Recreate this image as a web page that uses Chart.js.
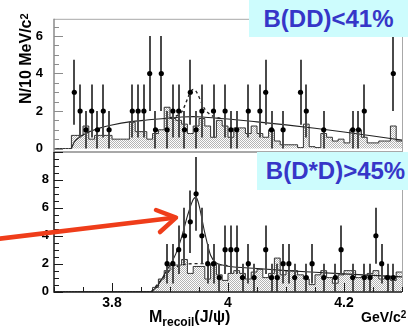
<!DOCTYPE html>
<html>
<head>
<meta charset="utf-8">
<script src="https://cdn.jsdelivr.net/npm/chart.js@4.4.1/dist/chart.umd.min.js"></script>
<style>
  body { margin: 0; background: #fff; }
  #wrap { position: relative; width: 408px; height: 330px; overflow: hidden; font-family: "Liberation Sans", Arial, sans-serif; }
  canvas { position: absolute; left: 0; top: 0; }
  .box { position: absolute; background: #cdfcfd; color: #3636c8; font-weight: bold; font-size: 24px; display: flex; align-items: center; justify-content: center; }
  .lbl { position: absolute; font-weight: bold; color: #000; white-space: nowrap; }
  svg { position: absolute; left: 0; top: 0; }
</style>
</head>
<body>
<div id="wrap">
  <canvas id="topChart" width="408" height="330"></canvas>
  <canvas id="botChart" width="408" height="330"></canvas>
  <div class="box" style="left:249px;top:0;width:159px;height:37px;">B(DD)&lt;41%</div>
  <div class="box" style="left:257px;top:152px;width:151px;height:38px;padding-left:6px;box-sizing:border-box;">B(D*D)&gt;45%</div>
  <div class="lbl" style="left:17px;top:104px;width:96px;font-size:16px;line-height:18px;transform-origin:0 0;transform:rotate(-90deg);">N/10 MeV/c<sup style="font-size:11px;position:relative;top:-2px;vertical-align:top;">2</sup></div>
  <div class="lbl" style="left:149px;top:309px;font-size:16px;line-height:16px;">M<span style="font-size:12px;position:relative;top:4px;">recoil</span>(J/ψ)</div>
  <div class="lbl" style="left:361px;top:310px;font-size:14px;line-height:14px;">GeV/c<sup style="font-size:10px;position:relative;top:-2px;vertical-align:top;">2</sup></div>
  <svg width="408" height="330">
    <g stroke="#ef3d1a" stroke-width="4.5" fill="none" stroke-linecap="round" stroke-linejoin="round">
      <line x1="-3" y1="239" x2="174" y2="217.8"/>
      <polyline points="156,210 176,217.6 160,232"/>
    </g>
  </svg>
</div>
<script>
// binning of both panels: 10 MeV bins from 3.70 to 4.30 GeV
const binStart = 3.70, binWidth = 0.01, nBins = 60;
const binCenters = [];
for (let i = 0; i < nBins; i++) binCenters.push(+(binStart + (i + 0.5) * binWidth).toFixed(3));

// top panel (DD)
const topCounts = [0,0,0,3,2,1,2,1,2,1,
                   0,0,0,2,2,2,4,1,4,1,
                   2,2,1,3,1,2,0,2,0,2,
                   1,1,0,2,0,2,3,1,0,1,
                   0,0,3,2,0,0,1,0,0,0,
                   0,1,1,2,0,0,0,0,4,0];
const topHist = [0,0,0,0.7,0.7,1.2,0.5,0.7,0.7,0.7,
                 0.5,0.5,0.5,1.4,0.9,0.9,0.5,0.8,1.0,2.2,
                 1.6,1.5,1.3,0.8,1.2,1.6,1.2,0.6,1.5,1.2,
                 0.6,1.1,1.1,0.8,1.2,0.8,0.6,1.0,0.4,0.2,
                 0.2,0.2,0.05,1.3,0.1,0.05,0.8,0.6,0.4,0.5,
                 0.3,1.0,1.0,0.6,0.3,0.3,0.4,0.4,1.2,0.4];
const topFitX = [3.730,3.735,3.745,3.76,3.78,3.80,3.83,3.86,3.89,3.92,3.94,3.96,3.98,4.00,4.05,4.10,4.15,4.20,4.25,4.30];
const topFitY = [0,0.35,0.62,0.88,1.1,1.25,1.42,1.52,1.6,1.68,1.7,1.67,1.62,1.57,1.42,1.26,1.08,0.88,0.67,0.45];
const topSigX = [3.90,3.91,3.92,3.925,3.93,3.935,3.94,3.945,3.95,3.955,3.96,3.97,3.98,3.99];
const topSigY = [1.64,1.72,1.95,2.25,2.65,3.0,3.15,3.05,2.75,2.4,2.1,1.8,1.66,1.6];

// bottom panel (D*D)
const botCounts = [0,0,0,0,0,0,0,0,0,0,
                   0,0,0,0,0,0,0,0,0,2,
                   2,3,4,5,7,4,2,2,1,3,
                   3,3,1,2,1,0,3,1,1,2,
                   2,1,0,1,2,0,1,0,1,3,
                   0,1,0,1,1,4,2,1,1,0];
const botHist = [0,0,0,0,0,0,0,0,0,0,
                 0,0,0,0,0,0,0,0.3,0.9,1.5,
                 1.9,1.9,2.3,1.3,1.8,1.8,0.9,2.0,1.2,0.8,
                 1.3,1.5,1.3,0.9,1.4,1.6,1.0,1.3,2.4,1.2,
                 1.5,1.5,1.2,0.9,0.5,1.2,1.5,1.0,0.6,1.2,
                 1.5,1.5,1.0,1.1,1.3,1.5,0.9,1.1,0.8,1.4];
const botFitX = [3.868,3.875,3.88,3.89,3.90,3.91,3.92,3.93,3.94,3.945,3.95,3.96,3.97,3.98,3.99,4.00,4.05,4.10,4.15,4.20,4.25,4.30];
const botFitY = [0,0.25,0.5,1.2,1.9,2.7,3.9,5.4,6.6,6.75,6.2,4.2,2.6,2.05,1.9,1.82,1.65,1.5,1.38,1.27,1.16,1.05];
const botBgX = [3.868,3.88,3.89,3.90,3.91,3.92,3.94,3.96,3.98,4.00];
const botBgY = [0,0.6,1.1,1.5,1.75,1.9,2.0,2.0,1.95,1.85];

const topYTicks = [0, 2, 4, 6];
const botYTicks = [0, 2, 4, 6, 8];
const xTickValues = [3.8, 4.0, 4.2];
const xTickLabels = ['3.8', '4', '4.2'];

const FONT = "'Liberation Sans', Arial, sans-serif";

function hatch() {
  const c = document.createElement('canvas');
  c.width = 4; c.height = 4;
  const g = c.getContext('2d');
  g.fillStyle = '#ffffff'; g.fillRect(0, 0, 4, 4);
  g.fillStyle = '#b4b4b4';
  [[0,0],[2,0],[1,1],[3,1],[0,2],[2,2],[1,3],[3,3]].forEach(([i, j]) => g.fillRect(i, j, 1, 1));
  return g.createPattern(c, 'repeat');
}

function histPoints(vals) {
  const pts = [{x: binStart, y: vals[0]}];
  vals.forEach((v, i) => pts.push({x: binCenters[i], y: v}));
  pts.push({x: binStart + nBins * binWidth, y: vals[nBins - 1]});
  return pts;
}
const curve = (xs, ys) => xs.map((x, i) => ({x: x, y: ys[i]}));
const dataPoints = counts => binCenters.map((b, i) => ({x: b, y: counts[i]})).filter(p => p.y > 0);

// poisson error bars drawn just before the data markers
const errorBars = {
  id: 'errorBars',
  beforeDatasetDraw(chart, args) {
    if (args.index !== 0) return;
    const {ctx, scales: {x, y}} = chart;
    ctx.save();
    ctx.strokeStyle = '#4a4a4a';
    ctx.lineWidth = 2;
    chart.data.datasets[0].data.forEach(p => {
      const e = Math.sqrt(p.y);
      const px = Math.round(x.getPixelForValue(p.x));
      ctx.beginPath();
      ctx.moveTo(px, y.getPixelForValue(p.y - e));
      ctx.lineTo(px, y.getPixelForValue(p.y + e));
      ctx.stroke();
    });
    ctx.restore();
  }
};

// ROOT style frame with ticks on the inside
const frame = {
  id: 'frame',
  afterDraw(chart, args, o) {
    const {ctx, chartArea: a, scales: {x, y}} = chart;
    ctx.save();
    ctx.lineWidth = 1;
    ctx.strokeStyle = o.edge;
    ctx.beginPath();
    ctx.moveTo(a.left, a.top + 0.5);
    ctx.lineTo(a.right + 0.5, a.top + 0.5);
    ctx.lineTo(a.right + 0.5, a.bottom);
    ctx.stroke();
    ctx.strokeStyle = o.axis;
    ctx.lineWidth = o.width;
    ctx.beginPath();
    ctx.moveTo(a.left, a.top);
    ctx.lineTo(a.left, a.bottom);
    ctx.lineTo(a.right, a.bottom);
    ctx.stroke();
    ctx.lineWidth = 1;
    ctx.beginPath();
    for (let k = 0; k * 0.5 <= y.max; k++) {
      const py = Math.round(y.getPixelForValue(k * 0.5)) + 0.5;
      const len = k % 4 === 0 ? 9 : 5;
      ctx.moveTo(a.left, py); ctx.lineTo(a.left + len, py);
    }
    if (o.xTicks) {
      for (let k = 0; k <= 12; k++) {
        const v = binStart + k * 0.05;
        const px = Math.round(x.getPixelForValue(v)) + 0.5;
        const len = k % 4 === 2 ? 9 : 5;
        ctx.moveTo(px, a.bottom); ctx.lineTo(px, a.bottom - len);
      }
    }
    ctx.stroke();
    ctx.restore();
  }
};

function makeChart(id, counts, hist, curves, yTicks, yRange, opts) {
  const datasets = [
    {data: dataPoints(counts), showLine: false, pointRadius: 2.6, pointBackgroundColor: '#000', pointBorderWidth: 0}
  ];
  curves.forEach(c => datasets.push({
    data: c.pts, borderColor: '#222', borderWidth: c.dash ? 1.4 : 1.1, borderDash: c.dash ? [3, 3] : [],
    pointRadius: 0, cubicInterpolationMode: 'monotone', fill: false
  }));
  datasets.push({
    data: histPoints(hist), stepped: 'middle', borderColor: '#333', borderWidth: 1,
    backgroundColor: hatch(), fill: 'origin', pointRadius: 0
  });

  return new Chart(document.getElementById(id), {
    type: 'line',
    data: {datasets: datasets},
    options: {
      responsive: false,
      animation: false,
      devicePixelRatio: 1,
      layout: {padding: opts.padding},
      plugins: {legend: {display: false}, tooltip: {enabled: false}, frame: opts.frame},
      scales: {
        x: {
          type: 'linear', min: 3.70, max: 4.30,
          display: opts.showX,
          grid: {display: false, drawTicks: false, tickLength: 0}, border: {display: false},
          afterBuildTicks: s => { s.ticks = xTickValues.map(v => ({value: v})); },
          afterFit: s => { s.height = opts.showX ? 38 : 0; },
          ticks: {
            callback: (v, i) => xTickLabels[i],
            color: '#000', padding: 3, maxRotation: 0,
            font: {family: FONT, size: 14, weight: 'bold'}
          }
        },
        y: {
          min: yRange[0], max: yRange[1],
          grid: {display: false, drawTicks: false, tickLength: 0}, border: {display: false},
          afterBuildTicks: s => { s.ticks = yTicks.map(v => ({value: v})); },
          afterFit: s => { s.width = 54; },
          ticks: {color: '#000', padding: opts.yPad, font: {family: FONT, size: 13, weight: 'bold'}}
        }
      }
    },
    plugins: [errorBars, frame]
  });
}

makeChart('topChart', topCounts, topHist,
  [{pts: curve(topSigX, topSigY), dash: true}, {pts: curve(topFitX, topFitY)}],
  topYTicks, [-0.185, 6.915],
  {
    padding: {top: 10, right: 6, bottom: 178, left: 0},
    showX: false, yPad: 11,
    frame: {axis: '#8c8c8c', edge: '#a8a8a8', width: 1.5, xTicks: false}
  });

makeChart('botChart', botCounts, botHist,
  [{pts: curve(botBgX, botBgY), dash: true}, {pts: curve(botFitX, botFitY)}],
  botYTicks, [-0.03, 10],
  {
    padding: {top: 152, right: 6, bottom: 0, left: 0},
    showX: true, yPad: 5,
    frame: {axis: '#1a1a1a', edge: '#a8a8a8', width: 1.5, xTicks: true}
  });
</script>
</body>
</html>
